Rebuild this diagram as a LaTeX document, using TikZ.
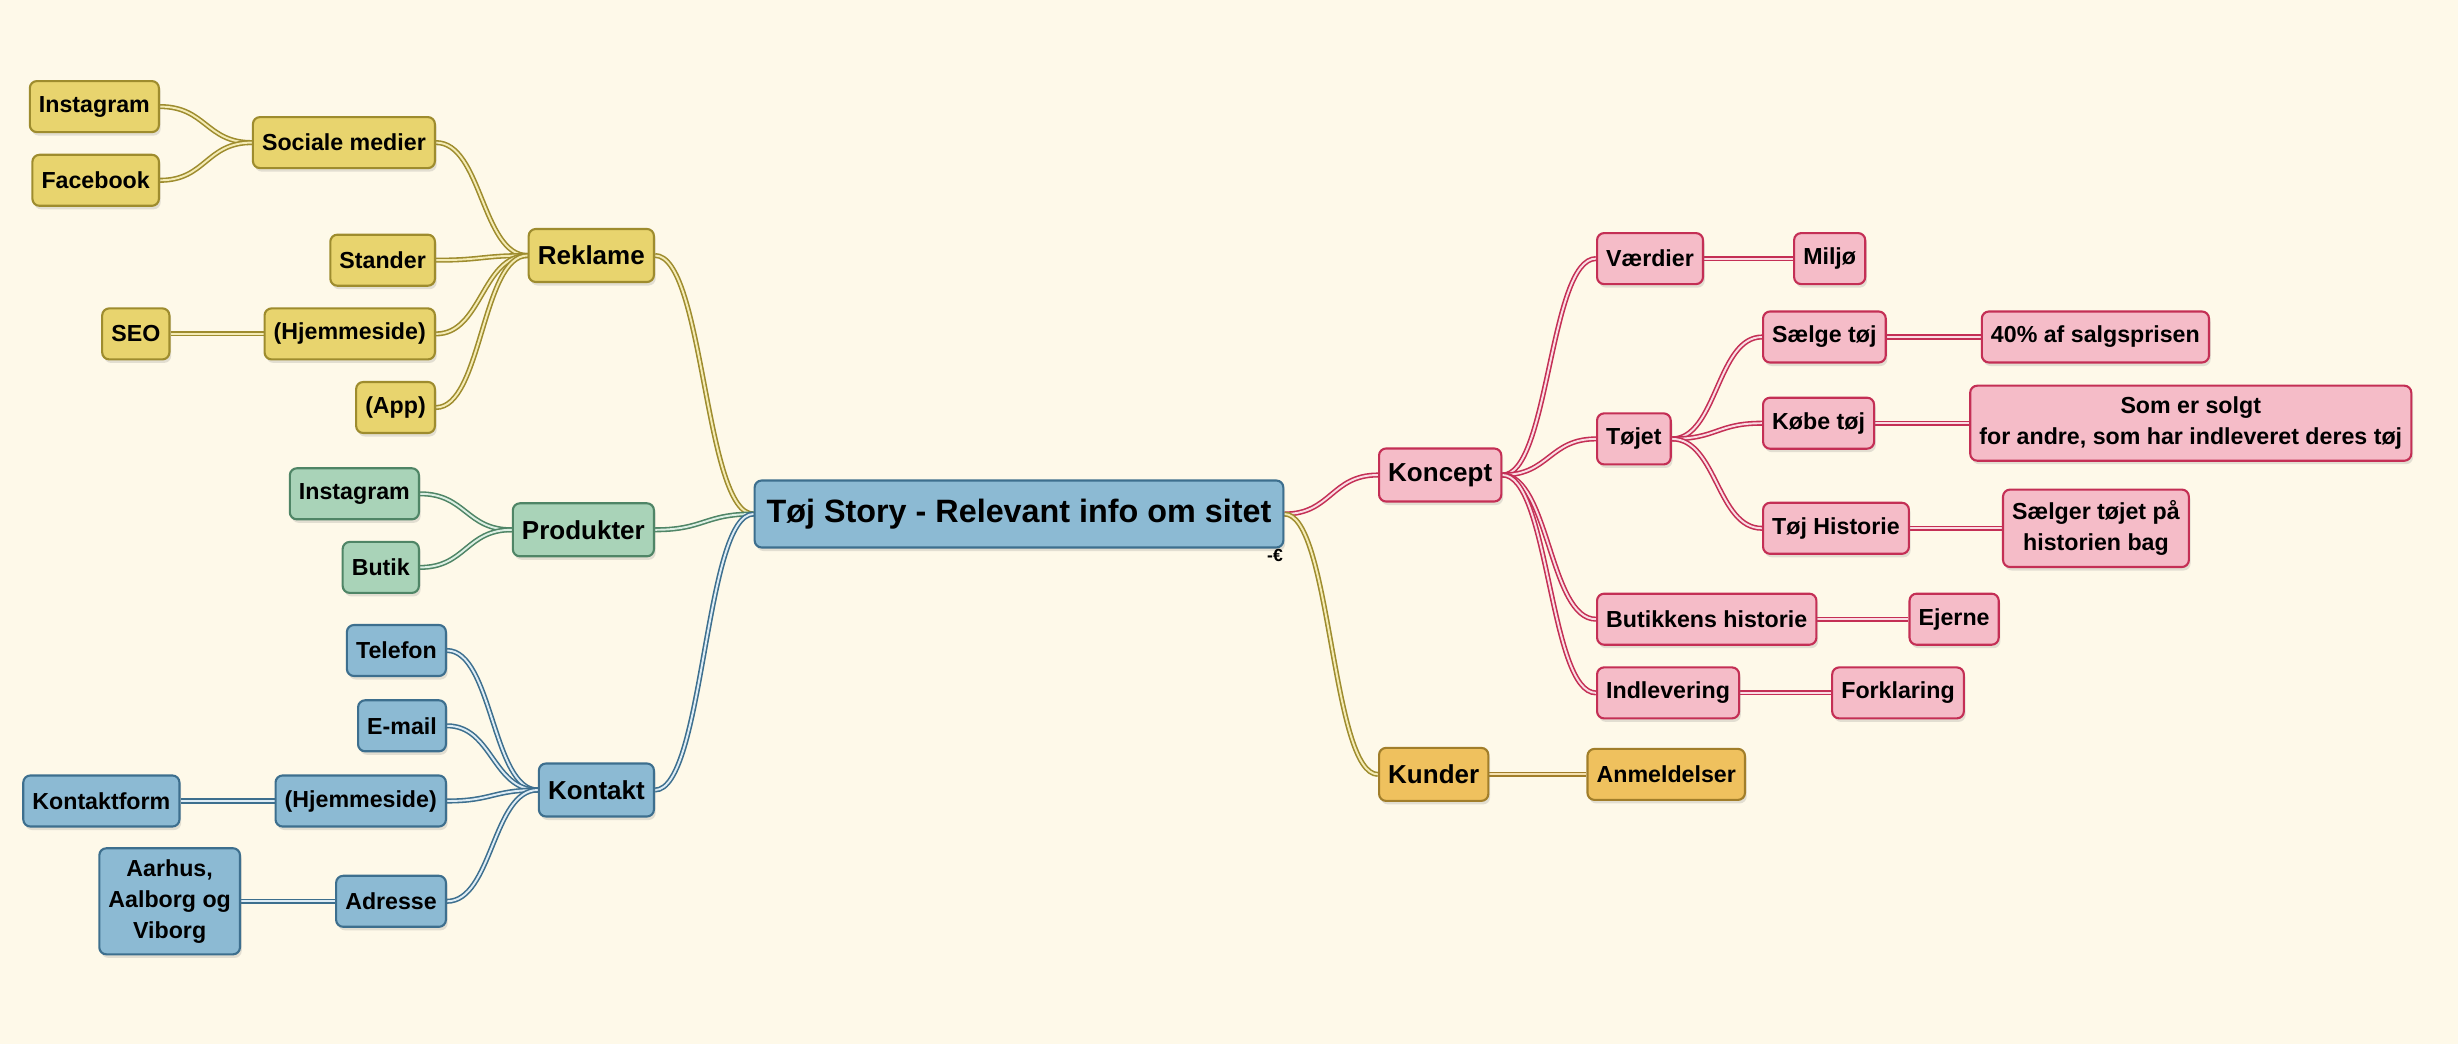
\documentclass[tikz,border=0pt]{standalone}
\usepackage{fontspec}
\setmainfont{Liberation Sans}
\usetikzlibrary{positioning,calc,shadows}

\definecolor{paper}{HTML}{FEF9E9}
\definecolor{ylwfill}{HTML}{E8D46E}
\definecolor{ylwline}{HTML}{9E8C2E}
\definecolor{ylwpale}{HTML}{F4EBB4}
\definecolor{grnfill}{HTML}{A9D3B8}
\definecolor{grnline}{HTML}{4F8566}
\definecolor{grnpale}{HTML}{DCEFE3}
\definecolor{blufill}{HTML}{8CBAD3}
\definecolor{bluline}{HTML}{3D6F8E}
\definecolor{blupale}{HTML}{DDECF5}
\definecolor{pnkfill}{HTML}{F5BCC8}
\definecolor{pnkline}{HTML}{C42F55}
\definecolor{pnkpale}{HTML}{FADDE3}
\definecolor{orgfill}{HTML}{EFC15E}
\definecolor{orgline}{HTML}{A17E2A}
\definecolor{orgpale}{HTML}{F6E2B0}

\pgfdeclarelayer{paperlayer}
\pgfdeclarelayer{linklayer}
\pgfsetlayers{paperlayer,linklayer,main}

\tikzset{
  box/.style={draw, rounded corners=2pt, line width=0.6pt, text=black,
    inner xsep=2.6pt, inner ysep=3.2pt, align=center,
    drop shadow={shadow xshift=0.5pt, shadow yshift=-1pt, opacity=0.22}},
  root/.style={box, font=\fontsize{9.2}{11}\selectfont\bfseries,
    minimum height=0.67cm, inner xsep=3.4pt},
  branch/.style={box, font=\fontsize{7.4}{9}\selectfont\bfseries, minimum height=0.53cm},
  leaf/.style={box, font=\fontsize{6.6}{8.8}\selectfont\bfseries, minimum height=0.51cm},
  ylw/.style={fill=ylwfill, draw=ylwline},
  grn/.style={fill=grnfill, draw=grnline},
  blu/.style={fill=blufill, draw=bluline},
  pnk/.style={fill=pnkfill, draw=pnkline},
  org/.style={fill=orgfill, draw=orgline},
  curvy/.style={to path={let \p1=(\tikztostart), \p2=(\tikztotarget) in
    .. controls ({0.5*\x1+0.5*\x2},\y1) and ({0.5*\x1+0.5*\x2},\y2) .. (\tikztotarget)}},
  link/.style={line width=0.45pt, double distance=0.55pt, curvy},
  ylink/.style={link, draw=ylwline, double=ylwpale},
  glink/.style={link, draw=grnline, double=grnpale},
  blink/.style={link, draw=bluline, double=blupale},
  plink/.style={link, draw=pnkline, double=pnkpale},
  olink/.style={link, draw=orgline, double=orgpale},
}

\begin{document}
\begin{tikzpicture}
  \useasboundingbox (0,0) rectangle (24.58,10.44);
  \begin{pgfonlayer}{paperlayer}
    \fill[paper] (0,0) rectangle (24.58,10.44);
  \end{pgfonlayer}

  % center
  \node[root, blu] (root) at (10.19,5.30) {Tøj Story - Relevant info om sitet};
  \node[font=\fontsize{5}{5}\selectfont\bfseries, inner sep=0pt] (euro) at (12.75,4.89) {-€};

  % left: Reklame
  \node[branch, ylw, anchor=east] (reklame) at (6.55,7.885) {Reklame};
  \node[leaf, ylw, anchor=east] (socmed) at (4.36,9.014) {Sociale medier};
  \node[leaf, ylw, anchor=east] (stander) at (4.36,7.838) {Stander};
  \node[leaf, ylw, anchor=east] (webreklame) at (4.36,7.101) {(Hjemmeside)};
  \node[leaf, ylw, anchor=east] (app) at (4.36,6.365) {(App)};
  \node[leaf, ylw, anchor=east] (instareklame) at (1.60,9.374) {Instagram};
  \node[leaf, ylw, anchor=east] (facebook) at (1.60,8.637) {Facebook};
  \node[leaf, ylw, left=0.93cm of webreklame] (seo) {SEO};

  % left: Produkter
  \node[branch, grn, anchor=east] (produkter) at (6.55,5.142) {Produkter};
  \node[leaf, grn, anchor=east] (instaprodukt) at (4.20,5.502) {Instagram};
  \node[leaf, grn, anchor=east] (butik) at (4.20,4.766) {Butik};

  % left: Kontakt
  \node[branch, blu, anchor=east] (kontakt) at (6.55,2.540) {Kontakt};
  \node[leaf, blu, anchor=east] (telefon) at (4.47,3.935) {Telefon};
  \node[leaf, blu, anchor=east] (email) at (4.47,3.182) {E-mail};
  \node[leaf, blu, anchor=east] (webkontakt) at (4.47,2.430) {(Hjemmeside)};
  \node[leaf, blu, anchor=east] (adresse) at (4.47,1.427) {Adresse};
  \node[leaf, blu, left=0.94cm of webkontakt] (kontaktform) {Kontaktform};
  \node[leaf, blu, left=0.94cm of adresse] (byer) {Aarhus,\\Aalborg og\\Viborg};

  % right: Koncept
  \node[branch, pnk, anchor=west] (koncept) at (13.78,5.690) {Koncept};
  \node[leaf, pnk, anchor=west] (vaerdier) at (15.96,7.854) {Værdier};
  \node[leaf, pnk, anchor=west] (toejet) at (15.96,6.051) {Tøjet};
  \node[leaf, pnk, anchor=west] (butikhist) at (15.96,4.248) {Butikkens historie};
  \node[leaf, pnk, anchor=west] (indlev) at (15.96,3.511) {Indlevering};
  \node[leaf, pnk, right=0.89cm of vaerdier] (miljoe) {Miljø};
  \node[leaf, pnk, right=0.91cm of butikhist] (ejerne) {Ejerne};
  \node[leaf, pnk, right=0.91cm of indlev] (forklaring) {Forklaring};
  \node[leaf, pnk, anchor=west] (saelge) at (17.62,7.070) {Sælge tøj};
  \node[leaf, pnk, anchor=west] (koebe) at (17.62,6.208) {Købe tøj};
  \node[leaf, pnk, anchor=west] (historie) at (17.62,5.157) {Tøj Historie};
  \node[leaf, pnk, right=0.94cm of saelge] (pris) {40\% af salgsprisen};
  \node[leaf, pnk, right=0.94cm of koebe] (solgt) {Som er solgt\\for andre, som har indleveret deres tøj};
  \node[leaf, pnk, right=0.92cm of historie] (historiebag) {Sælger tøjet på\\historien bag};

  % right: Kunder
  \node[branch, org, anchor=west] (kunder) at (13.78,2.696) {Kunder};
  \node[leaf, org, right=0.97cm of kunder] (anmeld) {Anmeldelser};

  \begin{pgfonlayer}{linklayer}
    \draw[ylink] (reklame.east) to (root.west);
    \draw[glink] (produkter.east) to (root.west);
    \draw[blink] (kontakt.east) to (root.west);
    \draw[plink] (root.east) to (koncept.west);
    \draw[ylink] (root.east) to (kunder.west);

    \draw[ylink] (socmed.east) to (reklame.west);
    \draw[ylink] (stander.east) to (reklame.west);
    \draw[ylink] (webreklame.east) to (reklame.west);
    \draw[ylink] (app.east) to (reklame.west);
    \draw[ylink] (instareklame.east) to (socmed.west);
    \draw[ylink] (facebook.east) to (socmed.west);
    \draw[ylink] (seo.east) -- (webreklame.west);

    \draw[glink] (instaprodukt.east) to (produkter.west);
    \draw[glink] (butik.east) to (produkter.west);

    \draw[blink] (telefon.east) to (kontakt.west);
    \draw[blink] (email.east) to (kontakt.west);
    \draw[blink] (webkontakt.east) to (kontakt.west);
    \draw[blink] (adresse.east) to (kontakt.west);
    \draw[blink] (kontaktform.east) -- (webkontakt.west);
    \draw[blink] (byer.east) -- (adresse.west);

    \draw[plink] (koncept.east) to (vaerdier.west);
    \draw[plink] (koncept.east) to (toejet.west);
    \draw[plink] (koncept.east) to (butikhist.west);
    \draw[plink] (koncept.east) to (indlev.west);
    \draw[plink] (vaerdier.east) -- (miljoe.west);
    \draw[plink] (butikhist.east) -- (ejerne.west);
    \draw[plink] (indlev.east) -- (forklaring.west);
    \draw[plink] (toejet.east) to (saelge.west);
    \draw[plink] (toejet.east) to (koebe.west);
    \draw[plink] (toejet.east) to (historie.west);
    \draw[plink] (saelge.east) -- (pris.west);
    \draw[plink] (koebe.east) -- (solgt.west);
    \draw[plink] (historie.east) -- (historiebag.west);

    \draw[olink] (kunder.east) -- (anmeld.west);
  \end{pgfonlayer}
\end{tikzpicture}
\end{document}
